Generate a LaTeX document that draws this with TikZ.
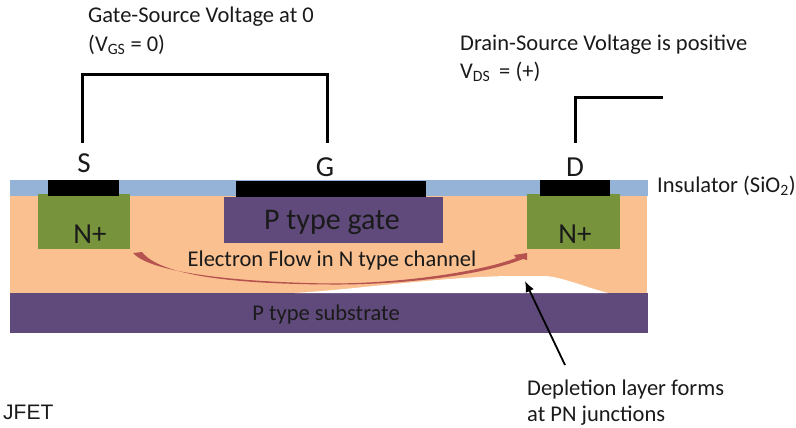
\documentclass[tikz,border=0pt]{standalone}
\usepackage{fontspec}
\setmainfont{Carlito}
\newfontfamily\arialfont{Liberation Sans}
\usepackage[usenames, dvipsnames, x11names]{xcolor}
\usetikzlibrary{arrows.meta}
\definecolor{InsulatorBlue}{HTML}{95B3D7}
\definecolor{ChannelOrange}{HTML}{FAC090}
\definecolor{GatePurple}{HTML}{604A7B}
\definecolor{ContactGreen}{HTML}{77933C}
\definecolor{FlowRed}{HTML}{B65350}
\definecolor{TextInk}{HTML}{1A1A1A}
\tikzset{
    wire/.style={line width=3pt, line join=miter},
    label18/.style={anchor=west, inner sep=0pt, text=TextInk, font=\fontsize{22.5}{24}\selectfont},
    term/.style={anchor=center, inner sep=0pt, text=TextInk, font=\fontsize{29}{31}\selectfont},
    layer/.style={anchor=north west, inner sep=0pt, outer sep=0pt},
}
\begin{document}
\begin{tikzpicture}[x=1pt, y=-1pt]
        \useasboundingbox (0, 0) rectangle (796, 428);

        % layers
        \node[layer, fill=ChannelOrange, minimum width=637, minimum height=100] (channel) at (10, 194) {};
        \node[layer, fill=InsulatorBlue, minimum width=638, minimum height=16] (insulator) at (10, 180) {};
        \node[layer, fill=GatePurple, minimum width=638, minimum height=40] (substrate) at (10, 293) {};

        % depletion layer
        \fill[white] (295, 293) .. controls (360, 289) and (440, 277) .. (510, 276) -- (545, 276)
            .. controls (562, 277) and (585, 287) .. (608, 293) -- cycle;

        % regions and contacts
        \node[layer, fill=ContactGreen, minimum width=92, minimum height=55] (sourcewell) at (38, 194) {};
        \node[layer, fill=ContactGreen, minimum width=93, minimum height=55] (drainwell) at (527, 194) {};
        \node[layer, fill=GatePurple, minimum width=219, minimum height=46] (gateregion) at (224, 197) {};
        \node[layer, fill=black, minimum width=71, minimum height=16] (sourcepad) at (48, 180) {};
        \node[layer, fill=black, minimum width=190, minimum height=16] (gatepad) at (236, 181) {};
        \node[layer, fill=black, minimum width=70, minimum height=16] (drainpad) at (540, 180) {};

        % electron flow
        \fill[FlowRed] (133, 253) .. controls (150, 272) and (230, 282) .. (330, 283.5)
            .. controls (400, 283.5) and (480, 272) .. (516, 258) -- (514, 255) -- (527, 253) -- (527, 260) -- (523, 259)
            .. controls (480, 276) and (400, 285) .. (330, 284.5)
            .. controls (230, 284) and (160, 275) .. (142, 252) -- cycle;

        \node[term] (sourcelabel) at (84, 163) {S};
        \node[term] (gatelabel) at (325, 167) {G};
        \node[term] (drainlabel) at (575, 167) {D};
        \node[term] (sourcen) at (90, 234) {N+};
        \node[term] (drainn) at (575, 234) {N+};
        \node[anchor=center, inner sep=0pt, text=TextInk, font=\fontsize{30}{32}\selectfont] (gatetext) at (332, 222) {P type gate};
        \node[anchor=center, inner sep=0pt, text=TextInk, font=\fontsize{22.5}{24}\selectfont] (flowtext) at (332, 261) {Electron Flow in N type channel};
        \node[anchor=center, inner sep=0pt, text=TextInk, font=\fontsize{22.5}{24}\selectfont] (substratetext) at (326, 315) {P type substrate};

        \node[label18] (insulatortext) at (657, 186) {Insulator (SiO\textsubscript{2})};
        \node[label18] (gatevolt) at (88, 17) {Gate-Source Voltage at 0};
        \node[label18] (gatezero) at (88, 45) {(V\textsubscript{GS} = 0)};
        \node[label18] (drainvolt) at (460, 45) {Drain-Source Voltage is positive};
        \node[label18] (drainplus) at (460, 72) {V\textsubscript{DS}\, = (+)};
        \node[label18] (depletionone) at (527, 389) {Depletion layer forms};
        \node[label18] (depletiontwo) at (527, 416) {at PN junctions};
        \node[anchor=west, inner sep=0pt, text=TextInk, font=\arialfont\fontsize{21}{23}\selectfont] (jfet) at (3, 412) {JFET};

        % wires
        \coordinate (sourcewire) at (82, 143);
        \coordinate (gatewire) at (327, 143);
        \coordinate (drainwire) at (575, 143);
        \coordinate (drainend) at (663, 98);
        \draw[wire] (sourcewire) -- (82, 75) -- (327, 75) -- (gatewire);
        \draw[wire] (drainwire) |- (drainend);

        % depletion pointer
        \coordinate (pointertail) at (565, 365);
        \coordinate (pointertip) at (525, 281);
        \draw[-{Latex[length=11pt, width=9pt]}, line width=1.8pt] (pointertail) -- (pointertip);
\end{tikzpicture}
\end{document}
